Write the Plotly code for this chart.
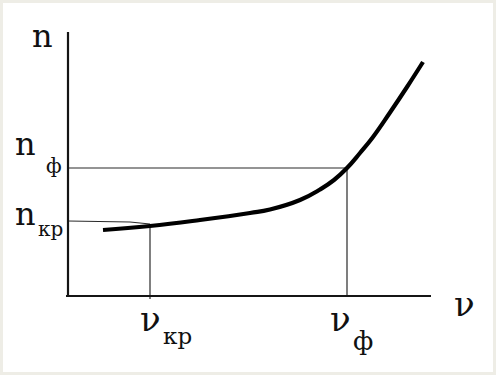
import plotly.graph_objects as go

# Dispersion curve n(ν): frequency and refractive index (arbitrary units)
nu_values = [35, 82, 132, 182, 202, 232, 252, 266, 279, 292, 305, 322, 339, 355]
n_values = [66, 70, 76, 83, 86.5, 96, 106.5, 116, 128, 143, 159, 183.5, 209, 234]

# Marked points on the curve
nu_kr, n_kr_curve = 82, 70
nu_f, n_f = 279, 128
n_kr_ref = [75, 74, 72]          # reference line towards n_кр
n_kr_ref_nu = [0, 62, nu_kr]

# Axis extents
nu_axis_end = 363
n_axis_end = 264

W, H = 496, 375
x_range = [-65, 425]
y_range = [-76, 293]

fig = go.Figure()

# helper lines to the marked points
thin = dict(color="#2a2a2a", width=1.2)
fig.add_trace(go.Scatter(x=[0, nu_f, nu_f], y=[n_f, n_f, 0], mode="lines", line=thin))
fig.add_trace(go.Scatter(x=n_kr_ref_nu, y=n_kr_ref, mode="lines", line=thin))
fig.add_trace(go.Scatter(x=[nu_kr, nu_kr], y=[n_kr_curve, -3], mode="lines", line=thin))

# axes
axis_line = dict(color="#151515", width=2.2)
fig.add_trace(go.Scatter(x=[0, 0], y=[0, n_axis_end], mode="lines", line=axis_line))
fig.add_trace(go.Scatter(x=[-2, nu_axis_end], y=[0, 0], mode="lines", line=axis_line))

# the curve
fig.add_trace(go.Scatter(x=nu_values, y=n_values, mode="lines",
                         line=dict(color="#000000", width=4.2, shape="spline", smoothing=1.3)))

serif = "DejaVu Serif"
txt = "#111111"


def label(x, y, text, size, anchor="center"):
    fig.add_annotation(x=x, y=y, text=text, showarrow=False, xanchor=anchor, yanchor="middle",
                       borderpad=0, font=dict(family=serif, size=size, color=txt))


# axis names
label(-26, 260, "n", 32)
label(396, -8, "ν", 34)

# n_ф and n_кр on the vertical axis
label(-31, 152.5, "n", 32, "right")
label(-23, 130, "ф", 20, "left")
label(-31, 82, "n", 32, "right")
label(-31, 67, "кр", 20, "left")

# ν_кр and ν_ф under the horizontal axis
label(nu_kr + 12, -22.5, "ν", 34, "right")
label(nu_kr + 12, -40, "кр", 23, "left")
label(nu_f + 5, -22.5, "ν", 34, "right")
label(nu_f + 5, -45, "ф", 26, "left")

fig.update_layout(
    width=W, height=H,
    margin=dict(l=3, r=3, t=3, b=3),
    paper_bgcolor="#eeede6",
    plot_bgcolor="#ffffff",
    showlegend=False,
    xaxis=dict(range=x_range, visible=False, fixedrange=True),
    yaxis=dict(range=y_range, visible=False, fixedrange=True),
)

fig.write_html("out.html")
